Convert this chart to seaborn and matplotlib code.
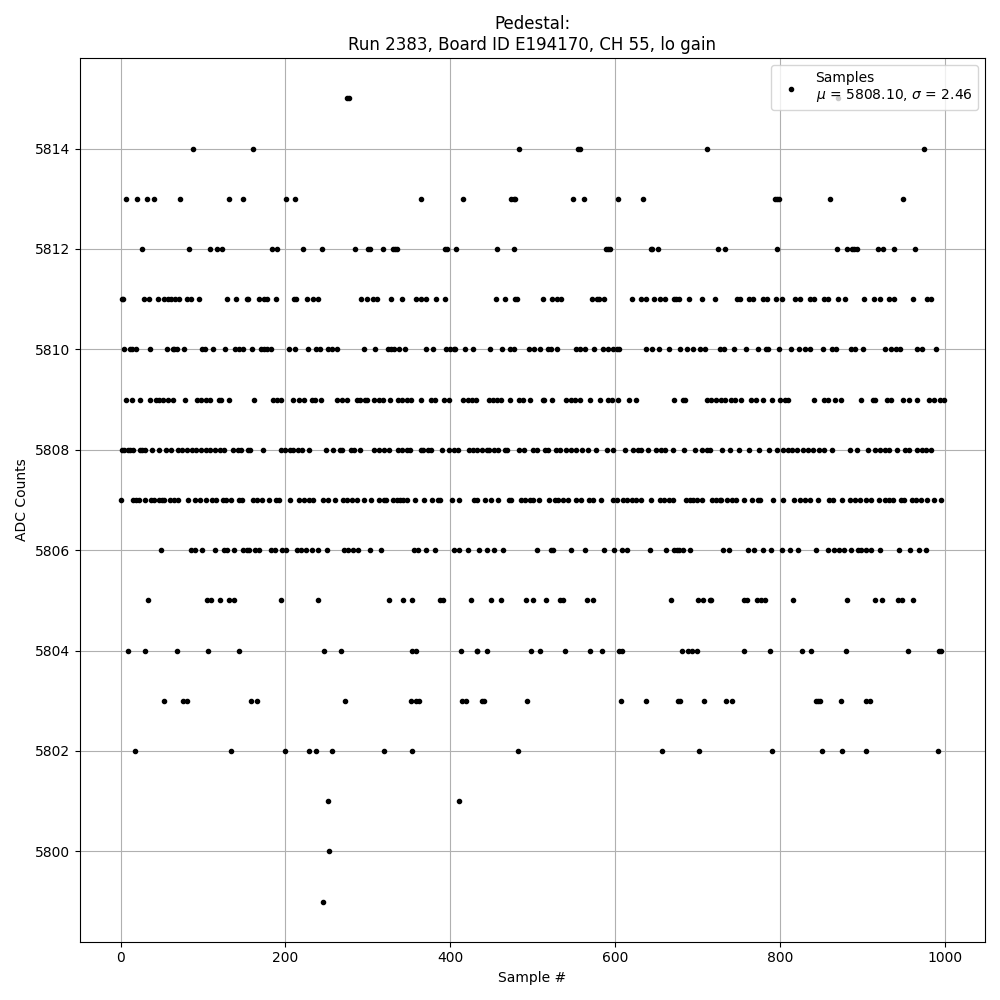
import pandas as pd
import matplotlib
matplotlib.use("Agg")
import matplotlib.pyplot as plt
import seaborn as sns

# Sample numbers, one list per ADC level
adc_5815 = [275, 277, 870]
adc_5814 = [88, 160, 484, 555, 557, 712, 975]
adc_5813 = [6, 20, 32, 40, 72, 131, 148, 201, 211, 365, 415, 474, 477, 479, 549, 562, 604, 634, 794, 796, 799, 861, 949]
adc_5812 = [26, 83, 108, 117, 123, 184, 190, 221, 244, 284, 300, 302, 318, 330, 333, 335, 393, 396, 407, 457, 477,
            589, 592, 594, 643, 645, 652, 725, 733, 796, 869, 881, 888, 890, 893, 919, 925, 939, 964]
adc_5811 = [1, 3, 28, 34, 45, 53, 57, 61, 66, 71, 80, 85, 95, 129, 140, 153, 154, 168, 174, 178, 188, 210, 213, 226,
            234, 240, 292, 299, 306, 311, 328, 341, 358, 365, 370, 383, 394, 456, 467, 478, 481, 513, 524, 529, 534,
            572, 578, 581, 587, 621, 632, 637, 647, 654, 660, 671, 674, 678, 690, 705, 721, 748, 752, 762, 767, 779,
            784, 795, 802, 818, 825, 836, 841, 853, 858, 870, 879, 902, 914, 922, 933, 939, 961, 979, 984]
adc_5810 = [4, 11, 14, 19, 35, 56, 63, 65, 68, 77, 99, 102, 112, 126, 139, 143, 149, 159, 170, 174, 178, 182, 204,
            212, 227, 237, 242, 251, 256, 263, 295, 309, 324, 328, 332, 338, 345, 371, 379, 395, 400, 404, 406, 418,
            427, 448, 463, 472, 477, 496, 502, 509, 518, 522, 530, 552, 558, 564, 575, 585, 591, 597, 602, 605, 638,
            645, 653, 665, 679, 687, 695, 703, 709, 727, 732, 744, 759, 773, 783, 786, 799, 813, 823, 830, 836, 852,
            863, 868, 886, 891, 901, 928, 935, 941, 946, 967, 973, 990]
adc_5809 = [7, 14, 23, 35, 43, 47, 51, 58, 63, 78, 93, 97, 103, 109, 119, 122, 131, 162, 185, 190, 194, 209, 217, 223,
            232, 236, 243, 262, 268, 275, 287, 291, 297, 299, 307, 313, 318, 327, 337, 342, 347, 352, 365, 376, 382,
            392, 398, 416, 421, 426, 431, 447, 452, 457, 461, 472, 484, 488, 497, 512, 514, 524, 541, 546, 551, 557,
            569, 582, 592, 596, 604, 617, 625, 672, 682, 685, 711, 716, 723, 729, 734, 741, 746, 753, 765, 771, 779,
            790, 800, 806, 810, 842, 853, 858, 867, 874, 898, 913, 916, 930, 935, 950, 957, 966, 981, 987, 994, 999]
adc_5808 = [1, 4, 9, 11, 15, 23, 26, 29, 38, 47, 55, 61, 70, 74, 80, 87, 91, 98, 103, 108, 114, 120, 125, 136, 142,
            146, 154, 157, 173, 195, 200, 205, 209, 215, 220, 228, 249, 258, 266, 269, 279, 283, 291, 308, 313, 320,
            326, 337, 342, 347, 351, 364, 367, 373, 377, 390, 399, 404, 409, 423, 428, 433, 438, 444, 447, 453, 458,
            466, 469, 484, 489, 501, 505, 515, 519, 528, 533, 541, 547, 552, 560, 567, 577, 590, 598, 612, 622, 628,
            632, 640, 650, 656, 661, 670, 684, 697, 705, 711, 715, 730, 739, 750, 762, 775, 787, 796, 804, 810, 815,
            821, 828, 834, 840, 848, 854, 863, 885, 893, 907, 915, 921, 927, 933, 942, 952, 957, 966, 972, 977, 983]
adc_5807 = [0, 15, 19, 22, 30, 37, 41, 46, 50, 53, 60, 65, 70, 82, 90, 96, 104, 111, 116, 124, 128, 134, 143, 147,
            160, 165, 172, 180, 188, 192, 206, 216, 223, 229, 234, 245, 251, 260, 270, 275, 281, 287, 295, 304, 313,
            320, 322, 331, 335, 339, 343, 347, 357, 368, 378, 385, 387, 402, 410, 429, 433, 442, 450, 458, 471, 474,
            486, 491, 497, 501, 508, 520, 527, 531, 537, 543, 552, 559, 568, 573, 583, 598, 602, 610, 615, 620, 626,
            632, 644, 654, 659, 665, 670, 686, 691, 695, 699, 705, 718, 723, 727, 729, 736, 742, 747, 756, 766, 773,
            776, 792, 804, 817, 825, 830, 836, 846, 860, 864, 876, 885, 891, 897, 905, 911, 920, 928, 932, 937, 947,
            951, 960, 965, 971, 979, 987, 996]
adc_5806 = [49, 85, 90, 99, 115, 125, 129, 138, 149, 153, 156, 163, 168, 183, 187, 196, 201, 214, 219, 225, 232, 239,
            250, 271, 276, 282, 288, 303, 316, 356, 361, 371, 381, 404, 411, 422, 435, 445, 453, 464, 505, 522, 525,
            547, 564, 587, 599, 609, 615, 642, 662, 672, 675, 678, 682, 691, 731, 738, 761, 769, 780, 789, 802, 812,
            822, 844, 858, 866, 872, 878, 886, 895, 899, 905, 910, 921, 944, 958, 969, 977]
adc_5805 = [33, 105, 110, 120, 132, 137, 194, 239, 326, 343, 353, 387, 391, 425, 449, 461, 492, 500, 516, 533, 537,
            566, 573, 668, 701, 707, 715, 717, 756, 760, 772, 777, 782, 816, 882, 916, 924, 943, 948, 962]
adc_5804 = [9, 30, 68, 106, 144, 247, 267, 354, 358, 413, 432, 433, 444, 498, 509, 539, 570, 584, 605, 609, 681, 688,
            693, 699, 756, 788, 827, 838, 880, 955, 993, 996]
adc_5803 = [52, 76, 80, 158, 165, 272, 352, 358, 362, 414, 419, 438, 441, 493, 607, 638, 676, 679, 708, 735, 742,
            844, 846, 849, 874, 904, 909]
adc_5802 = [17, 134, 199, 229, 237, 256, 320, 353, 482, 657, 702, 790, 851, 875, 905, 992]
adc_5801 = [252, 411]
adc_5800 = [253]
adc_5799 = [245]

levels = {5815: adc_5815, 5814: adc_5814, 5813: adc_5813, 5812: adc_5812, 5811: adc_5811, 5810: adc_5810,
          5809: adc_5809, 5808: adc_5808, 5807: adc_5807, 5806: adc_5806, 5805: adc_5805, 5804: adc_5804,
          5803: adc_5803, 5802: adc_5802, 5801: adc_5801, 5800: adc_5800, 5799: adc_5799}

rows = [(s, adc) for adc, samples in levels.items() for s in samples]
df = pd.DataFrame(rows, columns=["sample", "adc"]).sort_values("sample")

plt.figure(figsize=(10, 10))
ax = sns.scatterplot(x="sample", y="adc", data=df, marker=".", s=36, color="k", edgecolor="k",
                     linewidth=1, zorder=2, label="Samples\n$\\mu$ = 5808.10, $\\sigma$ = 2.46")
ax.grid(True)
ax.legend(loc="upper right")
ax.set_title("Pedestal:\nRun 2383, Board ID E194170, CH 55, lo gain")
ax.set_xlabel("Sample #")
ax.set_ylabel("ADC Counts")
plt.tight_layout()
plt.savefig("out.png", dpi=100)
